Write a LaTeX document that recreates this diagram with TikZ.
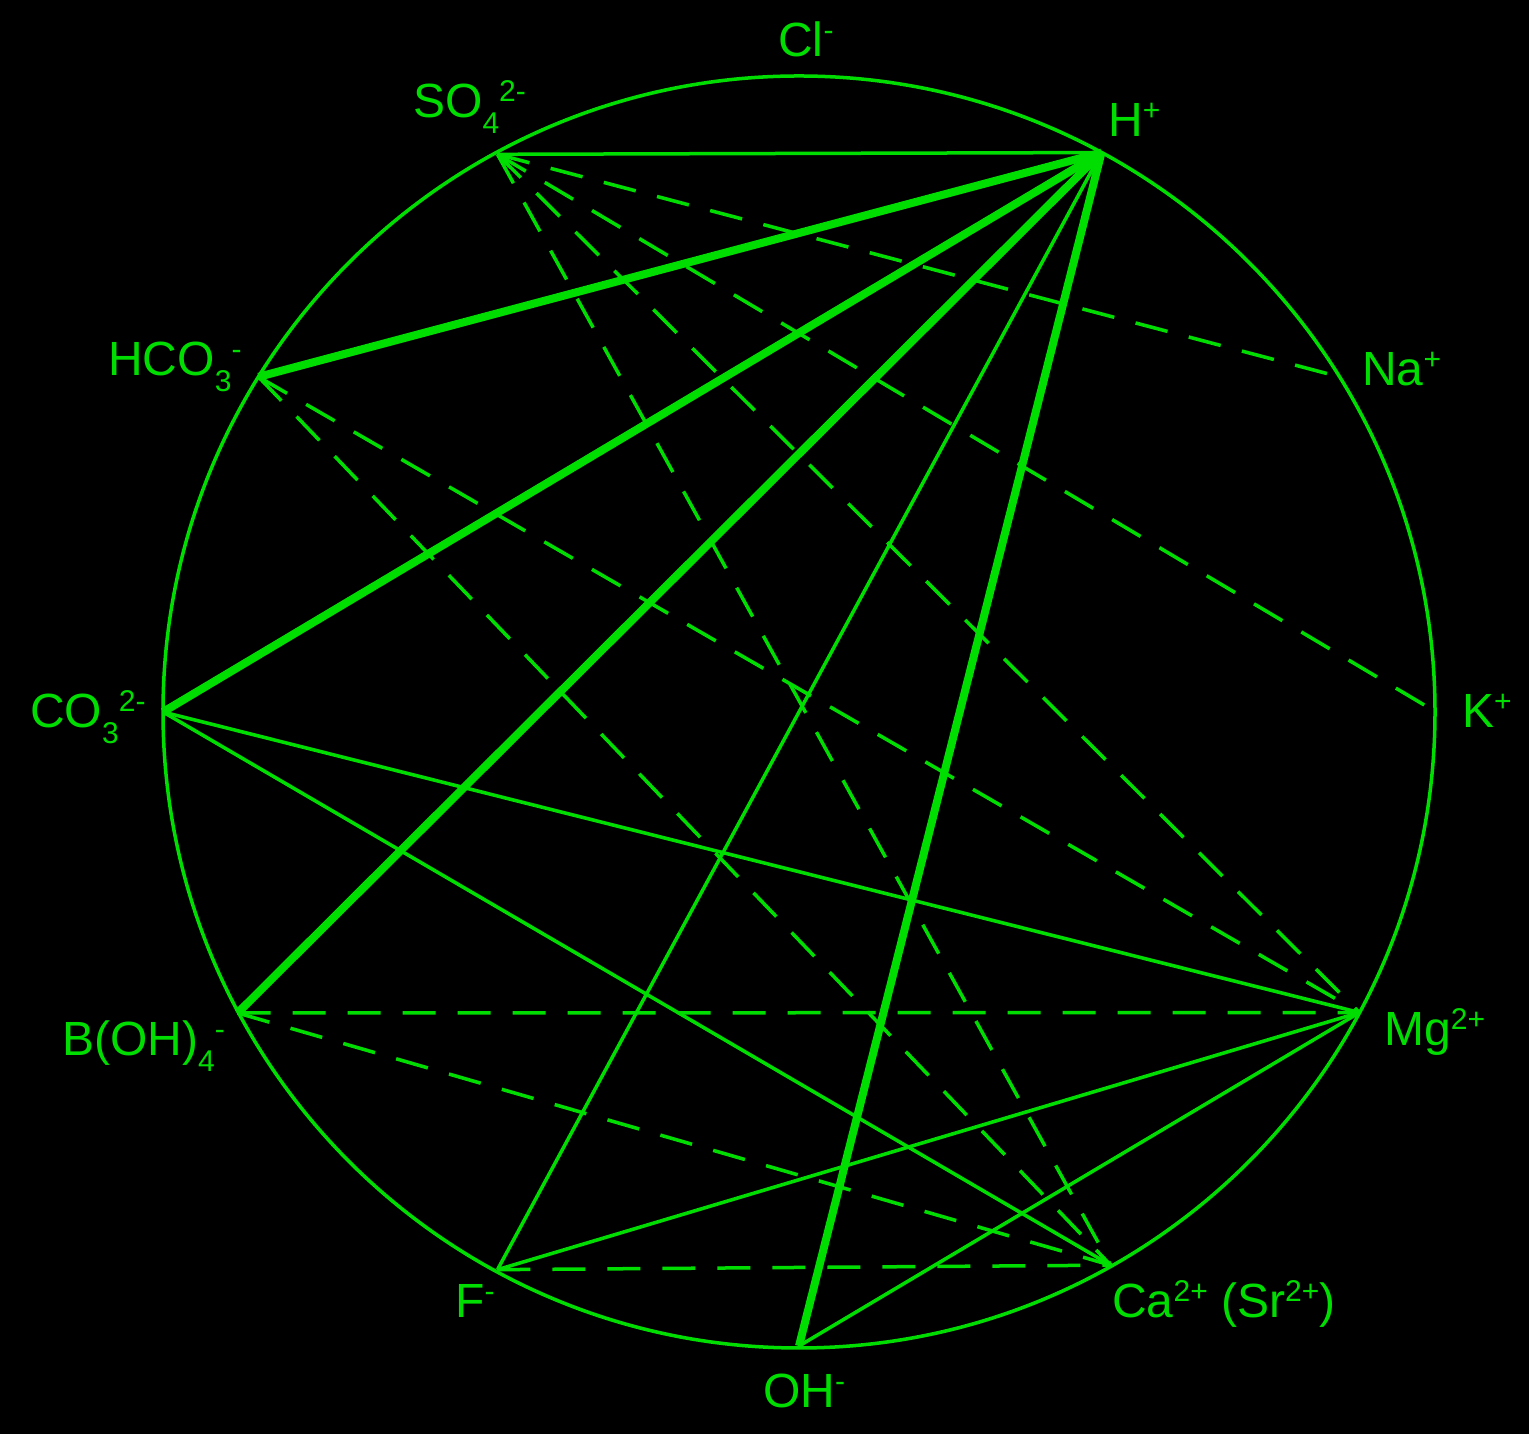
\documentclass[tikz,border=0pt]{standalone}
\usepackage{fontspec}
\setmainfont{Liberation Sans}
\definecolor{grn}{RGB}{0,221,0}
\newcommand\Sup[1]{\raisebox{16pt}{\fontsize{30}{30}\selectfont #1}}
\newcommand\Sub[1]{\raisebox{-16pt}{\fontsize{30}{30}\selectfont #1}}
\begin{document}
\begin{tikzpicture}[x=1pt,y=1pt,
  solidline/.style={grn,line width=3.5pt},
  thickline/.style={grn,line width=8pt},
  dashline/.style={grn,line width=3.5pt,dash pattern=on 33pt off 22pt},
  lab/.style={text=grn,anchor=base west,inner sep=0pt,font=\fontsize{48}{48}\selectfont}]
\fill[black] (0,0) rectangle (1529,1434);
\useasboundingbox (0,0) rectangle (1529,1434);
\coordinate (c) at (799,722);
\draw[solidline] (c) circle[radius=636];
% points on the circle
\coordinate (H)   at ([shift={(61.6:636)}]c);
\coordinate (Na)  at ([shift={(31.8:636)}]c);
\coordinate (K)   at ([shift={(0:637)}]c);
\coordinate (Mg)  at ([shift={(-28.2:636)}]c);
\coordinate (Ca)  at ([shift={(-60.6:635)}]c);
\coordinate (OH)  at ([shift={(-90:634)}]c);
\coordinate (F)   at ([shift={(-118.4:634)}]c);
\coordinate (B)   at ([shift={(-151.8:637)}]c);
\coordinate (CO)  at ([shift={(180:636)}]c);
\coordinate (HCO) at ([shift={(148.2:636)}]c);
\coordinate (SO)  at ([shift={(118.4:634)}]c);
% dashed lines
\draw[dashline] (SO) -- (Na);
\draw[dashline] (SO) -- (K);
\draw[dashline] (SO) -- (Mg);
\draw[dashline] (SO) -- (Ca);
\draw[dashline] (HCO) -- (Mg);
\draw[dashline] (HCO) -- (Ca);
\draw[dashline] (B) -- (Mg);
\draw[dashline] (B) -- (Ca);
\draw[dashline] (F) -- (Ca);
% thin solid lines
\draw[solidline] (H) -- (SO);
\draw[solidline] (H) -- (F);
\draw[solidline] (CO) -- (Mg);
\draw[solidline] (CO) -- (Ca);
\draw[solidline] (F) -- (Mg);
\draw[solidline] (OH) -- (Mg);
% thick lines
\draw[thickline] (H) -- (HCO);
\draw[thickline] (H) -- (CO);
\draw[thickline] (H) -- (B);
\draw[thickline] (H) -- (OH);
% labels
\node[lab] (lCl)  at (778,1377) {Cl\Sup{-}};
\node[lab] (lSO)  at (413,1316) {SO\Sub{4}\Sup{2-}};
\node[lab] (lH)   at (1108,1297) {H\Sup{+}};
\node[lab] (lHCO) at (108,1058) {HCO\Sub{3}\Sup{-}};
\node[lab] (lNa)  at (1362,1048) {Na\Sup{+}};
\node[lab] (lCO)  at (30,706) {CO\Sub{3}\Sup{2-}};
\node[lab] (lK)   at (1462,706) {K\Sup{+}};
\node[lab] (lB)   at (62,378) {B(OH)\Sub{4}\Sup{-}};
\node[lab] (lMg)  at (1384,388) {Mg\Sup{2+}};
\node[lab] (lF)   at (455,116) {F\Sup{-}};
\node[lab] (lCa)  at (1112,116) {Ca\Sup{2+} (Sr\Sup{2+})};
\node[lab] (lOH)  at (763,26) {OH\Sup{-}};
\end{tikzpicture}
\end{document}
